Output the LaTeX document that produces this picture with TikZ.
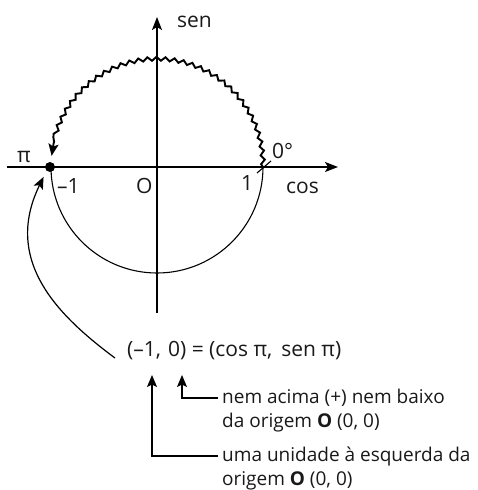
\documentclass[tikz,border=0pt]{standalone}
\usepackage{fontspec}
\setmainfont{Open Sans}
\usetikzlibrary{arrows.meta,decorations.pathmorphing}
\begin{document}
\begin{tikzpicture}[x=1pt,y=-1pt,
  font=\fontsize{19}{22}\selectfont,
  axis/.style={line width=1.3pt,-{Stealth[length=13pt,width=10pt,inset=3pt]}},
  pointer/.style={line width=1.2pt,-{Stealth[length=12pt,width=10pt,inset=2.5pt]}},
  wave/.style={line width=1.9pt,decorate,
    decoration={snake,segment length=9pt,amplitude=1.9pt,post length=12pt},
    -{Stealth[length=12pt,width=10pt,inset=2.5pt]}},
  lbl/.style={inner sep=0pt,text=black!90},
  big/.style={lbl,font=\fontsize{21}{24}\selectfont}]
\useasboundingbox (0,0) rectangle (478,490);
% axes
\coordinate (O) at (157,167);
\coordinate (xs) at (7,167);
\coordinate (xe) at (338,167);
\coordinate (ys) at (157,313);
\coordinate (ye) at (157,17);
\draw[axis] (xs) -- (xe);
\draw[axis] (ys) -- (ye);
% circle
\coordinate (A) at (263,167);
\draw[line width=1.1pt] (A) arc[start angle=0,end angle=-180,radius=106pt];
\draw[wave] (A) arc[start angle=0,end angle=174,radius=106pt];
\draw[line width=1.1pt] (257,173) -- (271,161);
\node[circle,fill=black,inner sep=0pt,minimum size=10pt] (P) at (50,167) {};
% axis labels
\node[big,anchor=base west] (sen) at (177,27) {sen};
\node[big,anchor=base west] (pi) at (17,162) {π};
\node[big,anchor=base west] (m1) at (57,193) {–1};
\node[big,anchor=base west] (Olbl) at (136,193) {O};
\node[big,anchor=base west] (one) at (241,190) {1};
\node[big,anchor=base west] (cos) at (286,193) {cos};
\node[big,anchor=base west] (zero) at (272,158) {0°};
% equation
\node[big,anchor=base west] (eq) at (127,356) {(–1,\,\,0) = (cos π,\, sen π)};
\draw[pointer,shorten >=1pt] ([xshift=-12pt,yshift=-8pt]eq.west) .. controls (60,317) and (2,262) .. (44,176);
% explanations
\node[lbl,anchor=west] (n1) at (222,398) {nem acima (+) nem baixo};
\node[lbl,anchor=base west] (n2) at (222,427) {da origem \textbf{O} (0, 0)};
\node[lbl,anchor=west] (u1) at (222,456) {uma unidade à esquerda da};
\node[lbl,anchor=base west] (u2) at (222,485) {origem \textbf{O} (0, 0)};
\coordinate (a0) at (182,375);
\coordinate (a1) at (152,375);
\draw[pointer] ([xshift=-4pt]n1.west) -| (a0);
\draw[pointer] ([xshift=-4pt]u1.west) -| (a1);
\end{tikzpicture}
\end{document}
